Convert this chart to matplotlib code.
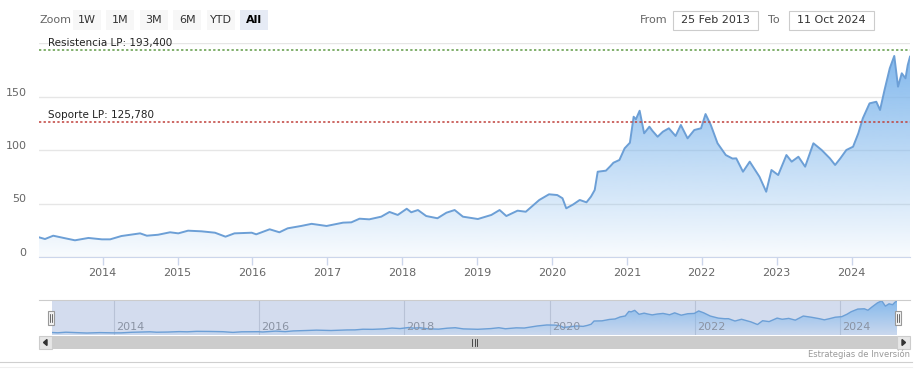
import numpy as np
import matplotlib
matplotlib.use("Agg")
import matplotlib.pyplot as plt
from matplotlib.patches import Rectangle, PathPatch, Polygon
from matplotlib.path import Path
from matplotlib.transforms import ScaledTranslation
from matplotlib.colors import to_rgb

# --- data (decimal years, price) ---
years = [2013.15, 2013.23, 2013.34, 2013.50, 2013.63, 2013.81, 2013.99, 2014.10, 2014.25,
         2014.50, 2014.59, 2014.74, 2014.90, 2015.01, 2015.14, 2015.32, 2015.50, 2015.64,
         2015.76, 2015.99, 2016.05, 2016.23, 2016.36, 2016.47, 2016.65, 2016.79, 2016.99,
         2017.21, 2017.32, 2017.43, 2017.56, 2017.72, 2017.83, 2017.94, 2018.06, 2018.12,
         2018.21, 2018.32, 2018.47, 2018.59, 2018.70, 2018.81, 2019.01, 2019.19, 2019.30,
         2019.39, 2019.54, 2019.65, 2019.83, 2019.96, 2020.07, 2020.14, 2020.19, 2020.28,
         2020.37, 2020.46, 2020.52, 2020.57, 2020.61, 2020.72, 2020.78, 2020.82, 2020.90,
         2020.97, 2021.04, 2021.09, 2021.12, 2021.17, 2021.23, 2021.30, 2021.34, 2021.41,
         2021.48, 2021.56, 2021.65, 2021.72, 2021.81, 2021.90, 2021.99, 2022.05, 2022.12,
         2022.21, 2022.32, 2022.41, 2022.46, 2022.55, 2022.64, 2022.77, 2022.86, 2022.93,
         2023.02, 2023.13, 2023.20, 2023.29, 2023.38, 2023.49, 2023.60, 2023.71, 2023.78,
         2023.85, 2023.93, 2024.02, 2024.09, 2024.15, 2024.24, 2024.33, 2024.38, 2024.44,
         2024.51, 2024.57, 2024.62, 2024.67, 2024.72, 2024.75, 2024.78]
prices = [18.4, 16.8, 19.9, 17.5, 15.6, 17.8, 16.5, 16.5, 19.6,
          22.1, 19.9, 20.8, 23.1, 22.1, 24.6, 24.0, 22.7, 19.0,
          22.1, 22.7, 21.2, 25.9, 23.1, 26.8, 29.0, 31.0, 29.0,
          32.1, 32.4, 35.8, 35.2, 37.7, 42.1, 39.3, 45.1, 41.8,
          43.9, 38.3, 36.2, 41.4, 43.9, 37.7, 35.5, 39.3, 43.9,
          38.3, 43.3, 42.3, 53.3, 58.6, 57.9, 54.9, 45.5, 49.0,
          53.3, 51.1, 56.4, 62.6, 79.7, 80.7, 85.0, 88.1, 90.7,
          101.6, 106.8, 131.1, 128.7, 136.7, 115.6, 121.8, 118.0, 112.4,
          117.1, 120.3, 113.1, 123.4, 110.9, 118.7, 120.3, 133.6, 123.4,
          106.3, 95.3, 92.0, 92.2, 79.7, 89.1, 75.0, 61.0, 81.3,
          76.6, 95.3, 89.1, 93.7, 84.4, 106.3, 100.0, 92.2, 86.0,
          92.2, 100.0, 103.1, 115.6, 129.6, 143.6, 145.1, 137.4, 156.1,
          176.4, 187.9, 159.2, 171.7, 167.0, 179.4, 187.2]

resistance = 193.4
support = 125.78
resistance_label = "Resistencia LP: 193,400"
support_label = "Soporte LP: 125,780"

y_ticks = [0, 50, 100, 150, 200]
y_tick_labels = ["0", "50", "100", "150", ""]
x_ticks = list(range(2014, 2025))
nav_ticks = [2014, 2016, 2018, 2020, 2022, 2024]
zoom_buttons = ["1W", "1M", "3M", "6M", "YTD", "All"]
date_from = "25 Feb 2013"
date_to = "11 Oct 2024"
credit = "Estrategias de Inversión"

W, H = 919, 377
plt.rcParams['font.family'] = ['DejaVu Sans']
fig = plt.figure(figsize=(W / 100, H / 100), dpi=100)


def px_axes(left, top, right, bottom, **kw):
    return fig.add_axes([left / W, 1 - bottom / H, (right - left) / W, (bottom - top) / H], **kw)


def gradient_area(ax, x, y, ymin, ymax, color, a_top, a_bot, zorder=1):
    verts = [(x[0], ymin)] + list(zip(x, y)) + [(x[-1], ymin)]
    patch = PathPatch(Path(verts), facecolor='none', edgecolor='none', transform=ax.transData)
    ax.add_patch(patch)
    rgb = to_rgb(color)
    alpha = np.linspace(a_top, a_bot, 256)
    img = np.zeros((256, 1, 4))
    img[:, 0, :3] = rgb
    img[:, 0, 3] = alpha
    im = ax.imshow(img, aspect='auto', extent=[x[0], x[-1], ymin, ymax],
                   origin='upper', zorder=zorder, interpolation='bilinear')
    im.set_clip_path(patch)


line_col = '#6c9fd6'
fill_col = '#7cb5ec'

# --- main chart ---
ax = px_axes(39, 43, 910, 257)
ax.set_xlim(years[0], years[-1])
ax.set_ylim(0, 200)
gradient_area(ax, years, prices, 0, 200, fill_col, 1.0, 0.05)
ax.plot(years, prices, color=line_col, lw=1.4, zorder=3)

ax.set_yticks(y_ticks)
ax.set_yticklabels(y_tick_labels)
ax.set_xticks(x_ticks)
ax.set_xticklabels([str(t) for t in x_ticks])
ax.grid(axis='y', color='#e6e6e6', lw=1)
ax.set_axisbelow(True)
for s in ['top', 'right', 'left']:
    ax.spines[s].set_visible(False)
ax.spines['bottom'].set_color('#ccd6eb')
ax.tick_params(axis='y', length=0, pad=9, labelsize=8, labelcolor='#666666')
ax.tick_params(axis='x', length=6, width=1, color='#ccd6eb', pad=2, labelsize=8,
               labelcolor='#666666')
for lab in ax.get_yticklabels():
    lab.set_transform(lab.get_transform() + ScaledTranslation(0, 5 / 100, fig.dpi_scale_trans))

ax.axhline(resistance, color='#5f9a45', ls=(0, (1.5, 1.5)), lw=1.1, zorder=4)
ax.axhline(support, color='#c0403a', ls=(0, (1.5, 1.5)), lw=1.1, zorder=4)
lab_x = years[0] + 9 / 75
off = ScaledTranslation(0, 2 / 100, fig.dpi_scale_trans)
ax.text(lab_x, resistance, resistance_label, fontsize=7.5, color='#222222', va='bottom',
        transform=ax.transData + off, zorder=5)
ax.text(lab_x, support, support_label, fontsize=7.5, color='#222222', va='bottom',
        transform=ax.transData + off, zorder=5)

# --- navigator ---
nav = px_axes(52, 300, 897, 335)
nav.set_facecolor('#d3dcee')
nav.set_xlim(years[0], years[-1])
nav.set_ylim(5, 192)
gradient_area(nav, years, prices, 5, 192, fill_col, 0.9, 0.1, zorder=2)
nav.plot(years, prices, color=line_col, lw=1, zorder=3)
nav.set_xticks(nav_ticks)
nav.set_xticklabels([])
nav.set_yticks([])
nav.grid(axis='x', color='#b8c2d6', lw=0.8)
nav.set_axisbelow(True)
nav.tick_params(length=0)
for s in nav.spines.values():
    s.set_visible(False)
for t in nav_ticks:
    nav.text(t + 0.03, 0.22, str(t), transform=nav.get_xaxis_transform(), fontsize=8,
             color='#8a93a3', va='center', ha='left', zorder=4)

# --- overlay for UI elements (pixel coordinates) ---
ov = fig.add_axes([0, 0, 1, 1], zorder=10)
ov.set_xlim(0, W)
ov.set_ylim(H, 0)
ov.axis('off')
ov.patch.set_alpha(0)

ov.text(40, 20, "Zoom", fontsize=8, color='#666666', va='center', ha='left')
for i, b in enumerate(zoom_buttons):
    bx = 73 + i * 33.4
    sel = b == "All"
    ov.add_patch(Rectangle((bx, 10), 28, 20, facecolor='#e6ebf5' if sel else '#f7f7f7',
                           edgecolor='none'))
    ov.text(bx + 14, 20, b, fontsize=8, color='#000000' if sel else '#333333',
            fontweight='bold' if sel else 'normal', ha='center', va='center')

ov.text(640, 20, "From", fontsize=8, color='#666666', va='center', ha='left')
ov.add_patch(Rectangle((673, 11), 85, 19, facecolor='white', edgecolor='#cccccc', lw=0.8))
ov.text(715.5, 20, date_from, fontsize=8, color='#333333', ha='center', va='center')
ov.text(768, 20, "To", fontsize=8, color='#666666', va='center', ha='left')
ov.add_patch(Rectangle((789, 11), 85, 19, facecolor='white', edgecolor='#cccccc', lw=0.8))
ov.text(831.5, 20, date_to, fontsize=8, color='#333333', ha='center', va='center')

# navigator outline and handles
ov.plot([39, 910], [300, 300], color='#cccccc', lw=0.8)
for hx in (48, 895):
    ov.add_patch(Rectangle((hx, 311), 6, 14, facecolor='#f2f2f2', edgecolor='#999999', lw=0.8))
    ov.plot([hx + 2.3, hx + 2.3], [314, 322], color='#333333', lw=0.5)
    ov.plot([hx + 3.7, hx + 3.7], [314, 322], color='#333333', lw=0.5)

# scrollbar
ov.add_patch(Rectangle((52, 336), 845, 13, facecolor='#cccccc', edgecolor='none'))
for bx in (39, 897):
    ov.add_patch(Rectangle((bx, 336), 13, 13, facecolor='#e6e6e6', edgecolor='#cccccc', lw=0.8))
ov.add_patch(Polygon([(47, 339.5), (47, 345.5), (43.5, 342.5)], closed=True, color='#333333'))
ov.add_patch(Polygon([(902, 339.5), (902, 345.5), (905.5, 342.5)], closed=True, color='#333333'))
for gx in (472, 474.5, 477):
    ov.plot([gx, gx], [339, 346], color='#333333', lw=0.6)

ov.text(910, 354, credit, fontsize=6, color='#999999', ha='right', va='center')
ov.plot([0, 912], [362, 362], color='#cfcfcf', lw=0.8)
ov.plot([0, 912], [366.5, 366.5], color='#efefef', lw=0.8)

fig.savefig("out.png", dpi=100)
